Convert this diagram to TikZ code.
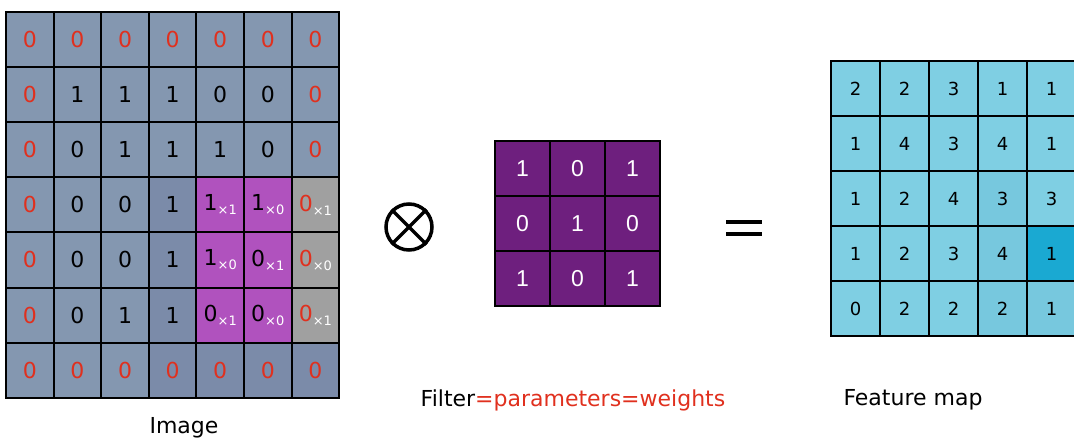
\documentclass[tikz,border=0pt]{standalone}
\usepackage{fontspec}
\setmainfont{DejaVu Sans}
\newfontfamily\filtfont{Liberation Sans}
\definecolor{imgbase}{HTML}{8497B0}
\definecolor{imgdark}{HTML}{7B8BA9}
\definecolor{patch}{HTML}{B052BE}
\definecolor{padgray}{HTML}{A0A0A0}
\definecolor{imgred}{HTML}{E0301E}
\definecolor{filt}{HTML}{6E1F7E}
\definecolor{mapbase}{HTML}{7FCFE3}
\definecolor{mapdark}{HTML}{77C8DE}
\definecolor{maphot}{HTML}{1AA9D2}
\newcommand\wt[1]{\raisebox{-4pt}{\fontsize{13}{13}\selectfont\color{white}×#1}}
\tikzset{
  cell/.style={draw, line width=2pt, anchor=north west, inner sep=0pt},
  imgcell/.style={cell, minimum width=47.6pt, minimum height=55.1pt, font=\fontsize{22}{22}\selectfont},
  filtcell/.style={cell, fill=filt, text=white, minimum size=55pt, font=\filtfont\fontsize{23}{23}\selectfont},
  mapcell/.style={cell, minimum width=49pt, minimum height=55pt, font=\fontsize{18}{18}\selectfont},
  label/.style={font=\fontsize{22}{22}\selectfont}
}
\begin{document}
\begin{tikzpicture}[x=1pt,y=-1pt]
\useasboundingbox (0,0) rectangle (1074,441);

\foreach \r/\vals in {0/{0,0,0,0,0,0,0},1/{0,1,1,1,0,0,0},2/{0,0,1,1,1,0,0},
    3/{0,0,0,1,1\wt1,1\wt0,0\wt1},4/{0,0,0,1,1\wt0,0\wt1,0\wt0},
    5/{0,0,1,1,0\wt1,0\wt0,0\wt1},6/{0,0,0,0,0,0,0}}
  \foreach \v [count=\c from 0] in \vals {
    \pgfmathtruncatemacro\pad{(\r==0)||(\r==6)||(\c==0)||(\c==6)}
    \pgfmathtruncatemacro\win{(\r>2)&&(\r<6)&&(\c>3)}
    \pgfmathtruncatemacro\shade{((\r>2)&&(\r<6)&&(\c==3))||((\r==6)&&(\c>2))}
    \def\fc{imgbase}\def\tc{black}
    \ifnum\shade=1 \def\fc{imgdark}\fi
    \ifnum\win=1 \ifnum\c=6 \def\fc{padgray}\else\def\fc{patch}\fi\fi
    \ifnum\pad=1 \def\tc{imgred}\fi
    \node[imgcell, fill=\fc, text=\tc] (img-\r-\c) at (5+47.6*\c, 11+55.1*\r) {\v};
  }

\node[circle, draw, line width=3.5pt, minimum size=46pt] (op) at (409,227) {};
\draw[line width=3.5pt] (op.north west) -- (op.south east);
\draw[line width=3.5pt] (op.north east) -- (op.south west);

\foreach \r/\vals in {0/{1,0,1},1/{0,1,0},2/{1,0,1}}
  \foreach \v [count=\c from 0] in \vals
    \node[filtcell] (filt-\r-\c) at (494+55*\c, 140+55*\r) {\v};

\coordinate (eq) at (744,228);
\draw[line width=4pt] ([xshift=-18pt,yshift=6pt]eq) -- ([xshift=18pt,yshift=6pt]eq);
\draw[line width=4pt] ([xshift=-18pt,yshift=-6pt]eq) -- ([xshift=18pt,yshift=-6pt]eq);

\foreach \r/\vals in {0/{2,2,3,1,1},1/{1,4,3,4,1},2/{1,2,4,3,3},3/{1,2,3,4,1},4/{0,2,2,2,1}}
  \foreach \v [count=\c from 0] in \vals {
    \def\fc{mapbase}
    \pgfmathtruncatemacro\shade{((\c==3)&&(\r>1))||((\r==4)&&(\c==4))}
    \ifnum\shade=1 \def\fc{mapdark}\fi
    \ifnum\r=3 \ifnum\c=4 \def\fc{maphot}\fi\fi
    \node[mapcell, fill=\fc] (map-\r-\c) at (830+49*\c, 60+55*\r) {\v};
  }

\node[label] (imglabel) at (184,428) {Image};
\node[label] (filtlabel) at (573,400) {Filter{\color{imgred}=parameters=weights}};
\node[label] (maplabel) at (913,400) {Feature map};
\end{tikzpicture}
\end{document}
